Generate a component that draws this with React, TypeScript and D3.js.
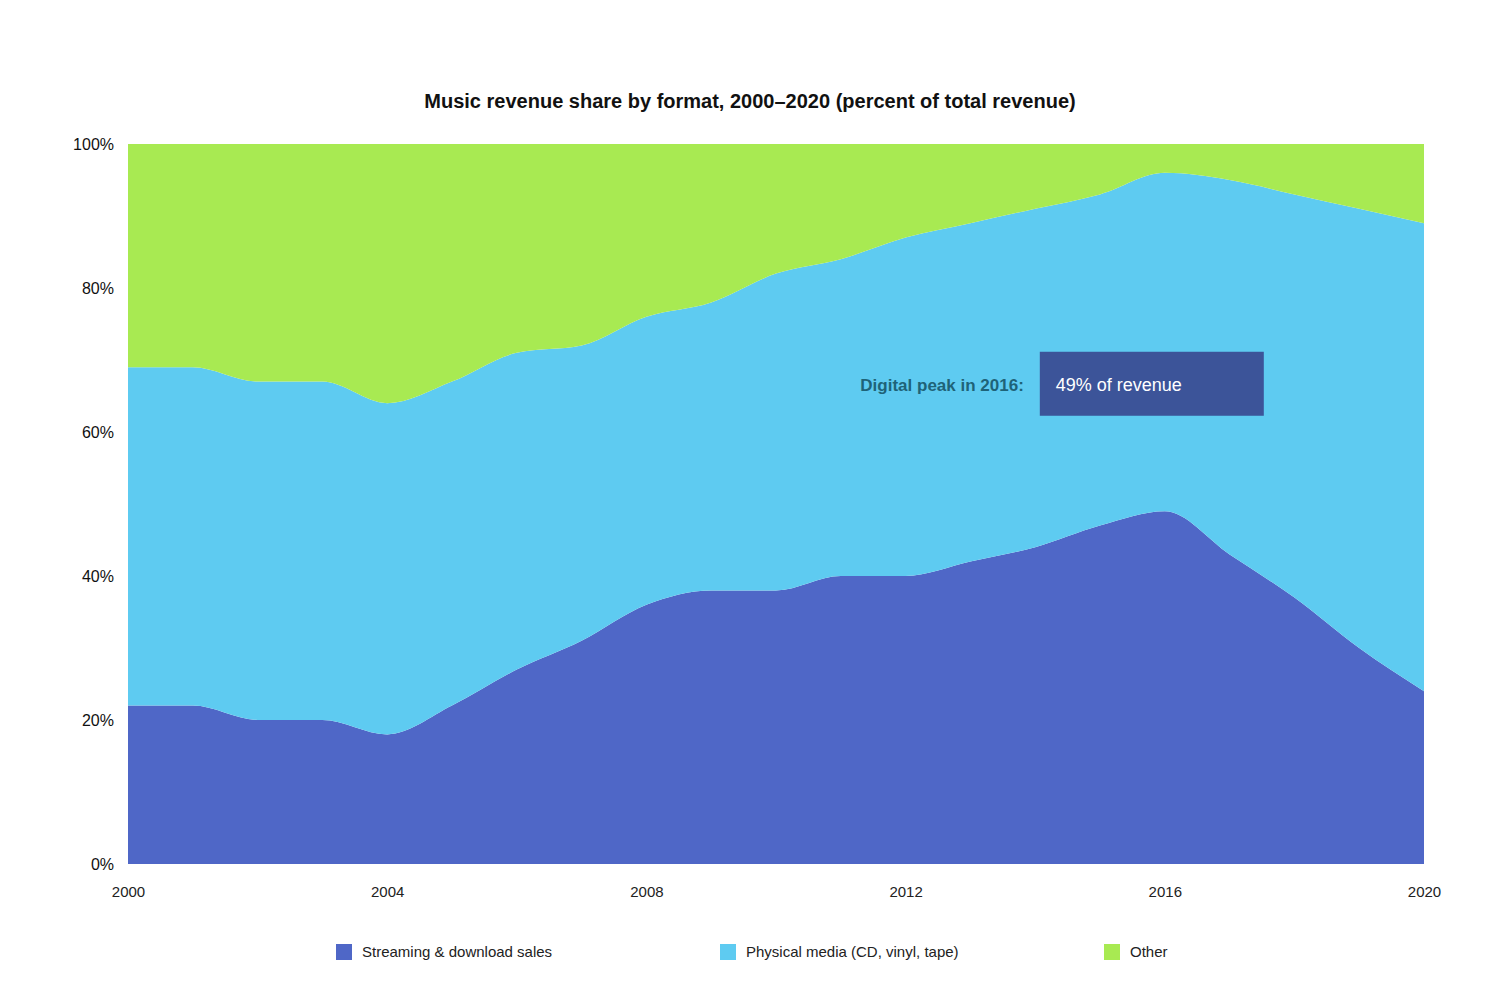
import { useEffect, useRef } from "react";
import * as d3 from "d3";

const years = [
  2000, 2001, 2002, 2003, 2004, 2005, 2006, 2007, 2008, 2009, 2010, 2011, 2012,
  2013, 2014, 2015, 2016, 2017, 2018, 2019, 2020,
];
const seriesNames = [
  "Streaming & download sales",
  "Physical media (CD, vinyl, tape)",
  "Other",
];
const streaming = [22, 22, 20, 20, 18, 22, 27, 31, 36, 38, 38, 40, 40, 42, 44, 47, 49, 43, 37, 30, 24];
const physical = [47, 47, 47, 47, 46, 45, 44, 41, 40, 40, 44, 44, 47, 47, 47, 46, 47, 52, 56, 61, 65];
const other = [31, 31, 33, 33, 36, 33, 29, 28, 24, 22, 18, 16, 13, 11, 9, 7, 4, 5, 7, 9, 11];
const colors = ["#4f67c7", "#5ecbf1", "#a8ea52"];
const xTicks = [2000, 2004, 2008, 2012, 2016, 2020];
const yTicks = [0, 0.2, 0.4, 0.6, 0.8, 1];

export default function App() {
  const svgRef = useRef<SVGSVGElement | null>(null);
  const width = 1500;
  const height = 1000;
  const margin = { top: 144, right: 76, bottom: 136, left: 128 };

  const renderChart = () => {
    const rows = years.map((y, i) => ({
      year: y,
      s0: streaming[i],
      s1: physical[i],
      s2: other[i],
    }));

    const x = d3
      .scaleLinear()
      .domain([years[0], years[years.length - 1]])
      .range([margin.left, width - margin.right]);
    const y = d3
      .scaleLinear()
      .domain([0, 1])
      .range([height - margin.bottom, margin.top]);

    const stack = d3
      .stack<any>()
      .keys(["s0", "s1", "s2"])
      .offset(d3.stackOffsetExpand);
    const layers = stack(rows);

    const area = d3
      .area<any>()
      .x((d) => x(d.data.year))
      .y0((d) => y(d[0]))
      .y1((d) => y(d[1]))
      .curve(d3.curveMonotoneX);

    const svg = d3.select(svgRef.current);
    svg.selectAll("*").remove();
    const font = "'Liberation Sans', Arial, sans-serif";

    // areas
    svg
      .append("g")
      .selectAll("path")
      .data(layers)
      .enter()
      .append("path")
      .attr("d", area as any)
      .attr("fill", (_d, i) => colors[i]);

    // title
    svg
      .append("text")
      .attr("x", width / 2)
      .attr("y", 108)
      .attr("text-anchor", "middle")
      .attr("font-family", font)
      .attr("font-size", 20)
      .attr("font-weight", "bold")
      .attr("fill", "#111")
      .text("Music revenue share by format, 2000–2020 (percent of total revenue)");

    // y axis
    const yAxis = d3
      .axisLeft(y)
      .tickValues(yTicks)
      .tickSize(0)
      .tickPadding(14)
      .tickFormat(d3.format(".0%") as any);
    const gy = svg
      .append("g")
      .attr("transform", `translate(${margin.left},0)`)
      .call(yAxis);
    gy.select(".domain").remove();
    gy.selectAll("text")
      .attr("font-family", font)
      .attr("font-size", 16)
      .attr("fill", "#111");

    // x axis
    const xAxis = d3
      .axisBottom(x)
      .tickValues(xTicks)
      .tickSize(0)
      .tickPadding(22)
      .tickFormat(d3.format("d") as any);
    const gx = svg
      .append("g")
      .attr("transform", `translate(0,${height - margin.bottom})`)
      .call(xAxis);
    gx.select(".domain").remove();
    gx.selectAll("text")
      .attr("font-family", font)
      .attr("font-size", 15)
      .attr("fill", "#222");

    // annotation at the peak of the first series
    const peakIdx = d3.maxIndex(streaming);
    const ax = x(years[peakIdx]);
    const ay = y(0.667);
    const boxW = 224;
    const boxH = 64;
    svg
      .append("rect")
      .attr("x", ax - 125)
      .attr("y", ay - 32)
      .attr("width", boxW)
      .attr("height", boxH)
      .attr("fill", "#3c5499");
    svg
      .append("text")
      .attr("x", ax - 109)
      .attr("y", ay + 7)
      .attr("font-family", font)
      .attr("font-size", 18)
      .attr("fill", "#fff")
      .text(`${streaming[peakIdx]}% of revenue`);
    svg
      .append("text")
      .attr("x", ax - 141)
      .attr("y", ay + 7)
      .attr("text-anchor", "end")
      .attr("font-family", font)
      .attr("font-size", 17)
      .attr("font-weight", "bold")
      .attr("fill", "#1e6378")
      .text(`Digital peak in ${years[peakIdx]}:`);

    // legend
    const legendX = [336, 720, 1104];
    const lg = svg
      .append("g")
      .selectAll("g")
      .data(seriesNames)
      .enter()
      .append("g")
      .attr("transform", (_d, i) => `translate(${legendX[i]},944)`);
    lg.append("rect")
      .attr("width", 16)
      .attr("height", 16)
      .attr("fill", (_d, i) => colors[i]);
    lg.append("text")
      .attr("x", 26)
      .attr("y", 13)
      .attr("font-family", font)
      .attr("font-size", 15)
      .attr("fill", "#222")
      .text((d) => d);
  };

  useEffect(() => {
    document.body.style.margin = "0";
    renderChart();
  }, []);

  return (
    <svg
      ref={svgRef}
      width={width}
      height={height}
      style={{ display: "block", background: "#fff" }}
    />
  );
}
